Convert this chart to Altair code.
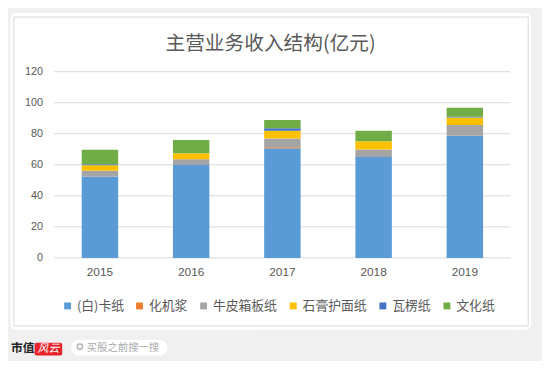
import altair as alt
import pandas as pd

years = ["2015", "2016", "2017", "2018", "2019"]
series = ["(白)卡纸", "化机浆", "牛皮箱板纸", "石膏护面纸", "瓦楞纸", "文化纸"]
colors = ["#5B9BD5", "#ED7D31", "#A5A5A5", "#FFC000", "#4472C4", "#70AD47"]
kazhi = [52.3, 59.9, 70.7, 65.0, 78.7]
huajijiang = [0.0, 0.0, 0.6, 0.0, 0.0]
niupi = [3.8, 3.6, 5.7, 4.8, 7.0]
shigao = [3.6, 4.0, 4.9, 5.3, 4.7]
waleng = [0.7, 0.0, 1.7, 0.0, 0.6]
wenhua = [9.3, 8.5, 5.3, 6.8, 5.7]
y_ticks = [0, 20, 40, 60, 80, 100, 120]
title_text = "主营业务收入结构(亿元)"

values = [kazhi, huajijiang, niupi, shigao, waleng, wenhua]
rows = []
for si, (name, vals) in enumerate(zip(series, values)):
    for y, v in zip(years, vals):
        rows.append({"year": y, "series": name, "value": v, "idx": si})
df = pd.DataFrame(rows)
grid_df = pd.DataFrame({"v": y_ticks})

FONT = "Noto Sans CJK SC"
one = alt.Data(values=[{}])

yscale = alt.Scale(domain=[0, 120], nice=False)
yaxis = alt.Axis(values=y_ticks, ticks=False, domain=False, grid=False, zindex=1,
                 labelColor="#595959", labelFontSize=11,
                 labelFont="Liberation Sans", labelPadding=12)

card = alt.Chart(one).mark_rect(color="white", cornerRadius=6).encode(
    x=alt.value(-44.5), x2=alt.value(484), y=alt.value(-59.5), y2=alt.value(262)
)
border = alt.Chart(one).mark_rect(fill=None, stroke="#d9d9d9", strokeWidth=1).encode(
    x=alt.value(-41), x2=alt.value(481), y=alt.value(-55.5), y2=alt.value(258)
)
grid = alt.Chart(grid_df).mark_rule(color="#d9d9d9", strokeWidth=1).encode(
    y=alt.Y("v:Q", scale=yscale, axis=yaxis, title=None),
    x=alt.value(0), x2=alt.value(463),
)

bars = alt.Chart(df).mark_bar(size=37).encode(
    x=alt.X("year:N", sort=years, title=None,
            axis=alt.Axis(labelAngle=0, ticks=False, domain=False, zindex=1,
                          labelColor="#595959", labelFontSize=12, labelFont="Liberation Sans",
                          labelPadding=9, grid=False)),
    y=alt.Y("value:Q", stack="zero", title=None, scale=yscale, axis=yaxis),
    color=alt.Color("series:N", sort=series,
                    scale=alt.Scale(domain=series, range=colors),
                    legend=alt.Legend(orient="none", legendX=7, legendY=231,
                                      direction="horizontal", title=None,
                                      symbolType="square", symbolSize=49,
                                      symbolStrokeWidth=0, labelFontSize=13,
                                      labelFont=FONT, labelColor="#595959",
                                      labelOffset=3, columnPadding=9, padding=0)),
    order=alt.Order("idx:Q", sort="ascending"),
)

title = alt.Chart(one).mark_text(font=FONT, fontSize=20, color="#595959",
                                 align="center", baseline="middle").encode(
    x=alt.value(219.5), y=alt.value(-28), text=alt.value(title_text)
)

logo = alt.Chart(one).mark_text(font=FONT, fontSize=12, fontWeight="bold", color="#222222",
                                align="left", baseline="middle").encode(
    x=alt.value(-44), y=alt.value(281), text=alt.value("市值")
)
logo_box = alt.Chart(one).mark_rect(color="#e8232b", cornerRadius=2).encode(
    x=alt.value(-20), x2=alt.value(8), y=alt.value(275), y2=alt.value(288)
)
logo_txt = alt.Chart(one).mark_text(font=FONT, fontSize=11, fontStyle="italic", color="white",
                                    align="center", baseline="middle").encode(
    x=alt.value(-6), y=alt.value(281.5), text=alt.value("风云")
)
pill = alt.Chart(one).mark_rect(color="white", cornerRadius=8).encode(
    x=alt.value(17), x2=alt.value(115), y=alt.value(272), y2=alt.value(288)
)
icon = alt.Chart(one).mark_point(shape="circle", size=30, stroke="#888888", strokeWidth=1.3,
                                 filled=False).encode(
    x=alt.value(26), y=alt.value(279)
)
search = alt.Chart(one).mark_text(font=FONT, fontSize=10.5, color="#aaaaaa",
                                  align="left", baseline="middle").encode(
    x=alt.value(33), y=alt.value(280), text=alt.value("买股之前搜一搜")
)

chart = alt.layer(card, border, grid, bars, title, logo, logo_box, logo_txt, pill, icon, search).properties(
    width=463, height=189,
    autosize=alt.AutoSizeParams(type="none"),
    padding={"left": 47, "top": 62, "right": 32, "bottom": 102},
    background="#f0f0f0",
).resolve_scale(y="shared").configure_view(stroke=None)

chart.save("out.html", embed_options={"renderer": "svg", "actions": False})
